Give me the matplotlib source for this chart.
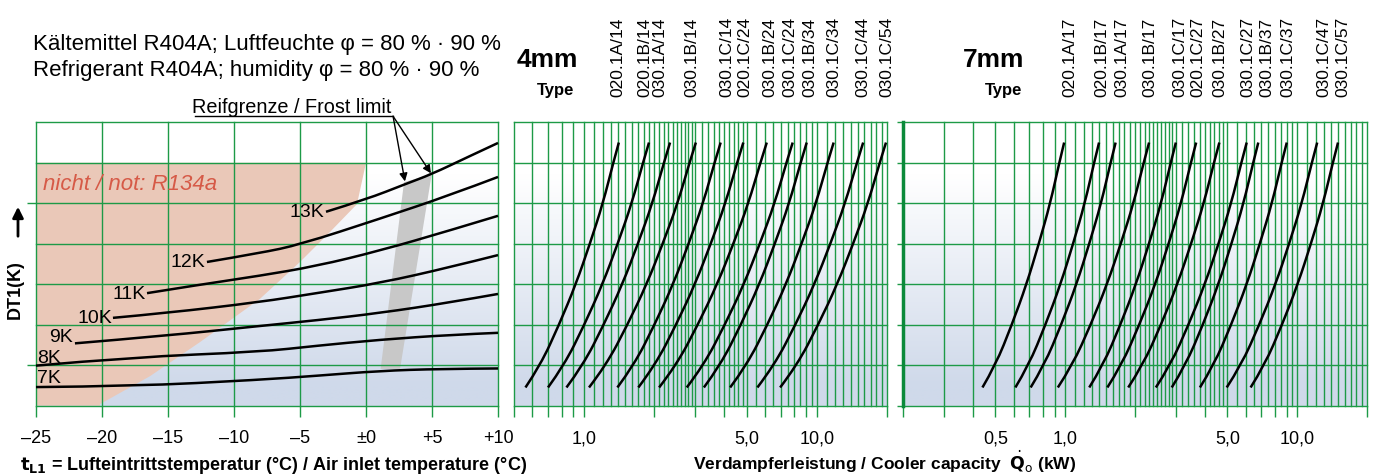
import numpy as np
import matplotlib
matplotlib.use("Agg")
import matplotlib.pyplot as plt
from matplotlib import transforms
from matplotlib.colors import to_rgb
from matplotlib.path import Path
from matplotlib.patches import PathPatch, FancyArrowPatch
from matplotlib.ticker import FixedLocator, FixedFormatter, NullFormatter

plt.rcParams["font.family"] = ["Liberation Sans", "DejaVu Sans"]

# ---- left panel: DT1 curves over air inlet temperature ----
TEMP_TICKS = [-25, -20, -15, -10, -5, 0, 5, 10]
TEMP_LABELS = ["–25", "–20", "–15", "–10", "–5", "±0", "+5", "+10"]

DT_NAMES = ["7K", "8K", "9K", "10K", "11K", "12K", "13K"]
DT_TEMPS = [
    [-25, -17.65, -8.03, -3.71, 1.06, 5.6, 10],
    [-25, -17.65, -8.03, -3.74, 1.06, 6.36, 10],
    [-22.05, -15.1, -8.03, -3.74, 1.06, 6.36, 10],
    [-19.17, -15.1, -8.03, -3.74, 1.06, 6.36, 10],
    [-16.59, -12.58, -8.03, -3.74, 1.06, 6.36, 10],
    [-12.05, -8.03, -5.0, 1.06, 6.36, 10],
    [-3.03, 0.05, 2.95, 4.98, 7.63, 10],
]
DT_LEVELS = [
    [0.46, 0.48, 0.64, 0.74, 0.86, 0.91, 0.92],
    [0.99, 1.20, 1.33, 1.48, 1.63, 1.75, 1.80],
    [1.54, 1.73, 1.97, 2.11, 2.29, 2.55, 2.76],
    [2.17, 2.29, 2.56, 2.78, 3.03, 3.42, 3.72],
    [2.78, 2.99, 3.21, 3.45, 3.83, 4.33, 4.69],
    [3.55, 3.77, 3.98, 4.62, 5.20, 5.65],
    [4.79, 5.10, 5.47, 5.72, 6.13, 6.49],
]

# "nicht / not: R134a" zone boundary
PINK_T = [-25, 0.0, -0.68, -2.73, -5.0, -8.03, -12.58, -16.36, -20.15, -20.15, -25]
PINK_Y = [6.0, 6.0, 4.98, 4.29, 3.55, 2.64, 1.57, 0.73, 0.04, 0.0, 0.0]

# frost limit band
FROST_T = [1.11, 2.58, 4.98, 2.88]
FROST_Y = [0.91, 0.91, 5.72, 5.52]

# ---- capacity panels ----
# shared curve profile: DT level vs. fraction of the log width
PROFILE_DT = [0.45, 1, 2, 3, 4, 5, 6, 6.5]
PROFILE_FRAC = [0.0, 0.16, 0.36, 0.54, 0.69, 0.83, 0.94, 1.0]

TYPES_4MM = ["020.1A/14", "020.1B/14", "030.1A/14", "030.1B/14", "030.1C/14", "020.1C/24",
             "030.1B/24", "030.1C/24", "030.1B/34", "030.1C/34", "030.1C/44", "030.1C/54"]
START_4MM = [0.56, 0.70, 0.84, 1.05, 1.39, 1.71, 2.10, 2.76, 3.27, 4.24, 5.55, 6.95]
END_4MM = [1.41, 1.90, 2.34, 3.02, 3.86, 4.83, 6.09, 7.87, 9.04, 11.8, 15.8, 19.8]
LABEL_4MM = [1.40, 1.83, 2.12, 2.90, 4.10, 4.91, 6.29, 7.67, 9.34, 11.8, 15.8, 19.9]

TYPES_7MM = ["020.1A/17", "020.1B/17", "030.1A/17", "030.1B/17", "030.1C/17", "020.1C/27",
             "030.1B/27", "030.1C/27", "030.1B/37", "030.1C/37", "030.1C/47", "030.1C/57"]
START_7MM = [0.44, 0.61, 0.71, 0.93, 1.27, 1.52, 1.87, 2.46, 2.88, 3.81, 4.97, 6.30]
END_7MM = [0.99, 1.40, 1.65, 2.30, 3.00, 3.67, 4.62, 6.06, 6.80, 9.02, 12.2, 15.0]
LABEL_7MM = [1.05, 1.44, 1.75, 2.32, 3.13, 3.75, 4.65, 6.16, 7.39, 9.16, 13.0, 15.8]

TICKS_4MM = [1, 5, 10]
TICKLABELS_4MM = ["1,0", "5,0", "10,0"]
TICKS_7MM = [0.5, 1, 5, 10]
TICKLABELS_7MM = ["0,5", "1,0", "5,0", "10,0"]

W, H = 1379, 477
GREEN = "#1d9a47"
BLUE = "#cfd9ea"


def px_box(x0, x1, ytop=123.3, ybot=406.7):
    return [x0 / W, 1 - ybot / H, (x1 - x0) / W, (ybot - ytop) / H]


def smooth_path(xs, ys, logx=False):
    # quadratic bezier through the midpoints of the read points
    xs = np.log10(xs) if logx else np.asarray(xs, float)
    ys = np.asarray(ys, float)
    verts = [(xs[0], ys[0])]
    codes = [Path.MOVETO]
    n = len(xs)
    for i in range(1, n - 1):
        if i == n - 2:
            end = (xs[-1], ys[-1])
        else:
            end = ((xs[i] + xs[i + 1]) / 2, (ys[i] + ys[i + 1]) / 2)
        verts += [(xs[i], ys[i]), end]
        codes += [Path.CURVE3, Path.CURVE3]
    if logx:
        verts = [(10 ** x, y) for x, y in verts]
    return Path(verts, codes)


def draw_curve(ax, xs, ys, logx=False):
    ax.add_patch(PathPatch(smooth_path(xs, ys, logx), fill=False, edgecolor="black",
                           lw=1.8, zorder=3, clip_on=False))


def make_panel(fig, box):
    # gradient background in its own axes
    bg = fig.add_axes(box, zorder=0)
    ys = np.linspace(7, 0, 300)
    f = np.clip((5.7 - ys) / 5.2, 0, 1)[:, None, None]
    img = (1 - f) * np.ones(3) + f * np.array(to_rgb(BLUE))
    bg.imshow(img, extent=(0, 1, 0, 1), aspect="auto", interpolation="bilinear")
    bg.axis("off")

    ax = fig.add_axes(box, zorder=1)
    ax.set_facecolor("none")
    for s in ax.spines.values():
        s.set_visible(False)
    ax.set_ylim(0, 7)
    for y in range(8):
        ax.axhline(y, color=GREEN, lw=1, zorder=2, clip_on=False)
    ax.tick_params(axis="both", which="both", color=GREEN, width=1, labelsize=13)
    ax.tick_params(axis="x", which="both", length=8, pad=9)
    return ax


def log_grid(lo):
    return np.concatenate([
        np.round(np.arange(lo, 3.0001, 0.1), 2),
        np.round(np.arange(3.2, 5.0001, 0.2), 2),
        np.arange(5.5, 10.0001, 0.5),
        np.arange(11, 20.0001, 1.0),
    ])


def capacity_panel(ax, lo, starts, ends, ticks, ticklabels, minor):
    ax.set_xscale("log")
    ax.set_xlim(lo, 20)
    for v in log_grid(lo):
        ax.axvline(v, color=GREEN, lw=1, zorder=2, clip_on=False)
    ax.xaxis.set_major_locator(FixedLocator(ticks))
    ax.xaxis.set_major_formatter(FixedFormatter(ticklabels))
    ax.xaxis.set_minor_locator(FixedLocator(minor))
    ax.xaxis.set_minor_formatter(NullFormatter())
    frac = np.array(PROFILE_FRAC)
    for x0, x1 in zip(starts, ends):
        lx = np.log10(x0) + frac * (np.log10(x1) - np.log10(x0))
        draw_curve(ax, 10 ** lx, PROFILE_DT, logx=True)


def type_labels(fig, ax, xs, names):
    tr = transforms.blended_transform_factory(ax.transData, fig.transFigure)
    for x, name in zip(xs, names):
        ax.text(x, 1 - 97 / H, name, transform=tr, rotation=90, ha="center", va="bottom",
                fontsize=12.5, clip_on=False)


def main():
    fig = plt.figure(figsize=(W / 100, H / 100), dpi=100)

    # ---------------- left panel ----------------
    ax = make_panel(fig, px_box(36, 498))
    ax.set_xlim(-25, 10)
    for t in TEMP_TICKS:
        ax.axvline(t, color=GREEN, lw=1, zorder=2, clip_on=False)
    ax.set_xticks(TEMP_TICKS, TEMP_LABELS)
    ax.set_yticks([1, 5])
    ax.tick_params(axis="y", length=6.5, labelleft=False)

    ax.fill(PINK_T, PINK_Y, color="#eac8b8", lw=0, zorder=1)
    ax.fill(FROST_T, FROST_Y, color="#c8c8c8", lw=0, zorder=1.5)
    ax.text(-24.5, 5.35, "nicht / not: R134a", color="#d65a47", style="italic",
            fontsize=16, ha="left", va="baseline", zorder=4)

    label_pos = [(-24.9, 0.69, "left"), (-24.9, 1.20, "left"), (-22.2, 1.70, "right"),
                 (-19.25, 2.17, "right"), (-16.7, 2.78, "right"), (-12.15, 3.55, "right"),
                 (-3.15, 4.79, "right")]
    for name, ts, ys, (lx, ly, ha) in zip(DT_NAMES, DT_TEMPS, DT_LEVELS, label_pos):
        draw_curve(ax, ts, ys)
        ax.text(lx, ly, name, fontsize=14, ha=ha, va="center", zorder=4)

    # frost limit call-out
    ax.plot([-12.95, 2.05], [7.15, 7.15], color="black", lw=1, clip_on=False)
    for xy in [(2.95, 5.54), (4.92, 5.74)]:
        ax.annotate("", xy=xy, xytext=(2.05, 7.15), annotation_clip=False,
                    arrowprops=dict(arrowstyle="-|>", color="black", lw=1, mutation_scale=12,
                                    shrinkA=0, shrinkB=0), zorder=5)
    fig.text(192 / W, 1 - 113 / H, "Reifgrenze / Frost limit", fontsize=14.3, va="baseline")

    # ---------------- 4mm panel ----------------
    ax4 = make_panel(fig, px_box(514, 887))
    ax4.set_yticks([])
    capacity_panel(ax4, 0.5, START_4MM, END_4MM, TICKS_4MM, TICKLABELS_4MM,
                   [0.5, 0.6, 0.7, 0.8, 0.9, 2, 3, 4, 6, 7, 8, 9, 20])
    type_labels(fig, ax4, LABEL_4MM, TYPES_4MM)

    # ---------------- 7mm panel ----------------
    ax7 = make_panel(fig, px_box(903, 1367))
    ax7.set_yticks(range(8))
    ax7.tick_params(axis="y", length=4, labelleft=False)
    capacity_panel(ax7, 0.2, START_7MM, END_7MM, TICKS_7MM, TICKLABELS_7MM,
                   [0.2, 0.3, 0.4, 0.6, 0.7, 0.8, 0.9, 2, 3, 4, 6, 7, 8, 9, 20])
    ax7.axvline(0.2, color="#0b8a3a", lw=2.5, zorder=2.5, clip_on=False)
    type_labels(fig, ax7, LABEL_7MM, TYPES_7MM)

    # ---------------- texts ----------------
    fig.text(33 / W, 1 - 50 / H, "Kältemittel R404A; Luftfeuchte φ = 80 % · 90 %",
             fontsize=16, va="baseline")
    fig.text(33 / W, 1 - 76 / H, "Refrigerant R404A; humidity φ = 80 % · 90 %",
             fontsize=16, va="baseline")
    fig.text(517 / W, 1 - 67 / H, "4mm", fontsize=19, fontweight="bold", va="baseline")
    fig.text(537 / W, 1 - 95 / H, "Type", fontsize=12, fontweight="bold", va="baseline")
    fig.text(963 / W, 1 - 67 / H, "7mm", fontsize=19, fontweight="bold", va="baseline")
    fig.text(985 / W, 1 - 95 / H, "Type", fontsize=12, fontweight="bold", va="baseline")

    fig.text(15 / W, 1 - 290 / H, "DT1(K)", rotation=90, fontsize=13, fontweight="bold",
             ha="center", va="center")
    fig.add_artist(FancyArrowPatch(
        (18 / W, 1 - 240 / H), (18 / W, 1 - 205 / H), transform=fig.transFigure,
        arrowstyle="-|>", mutation_scale=16, color="black", lw=2))

    fig.text(20 / W, 1 - 470 / H,
             r"$\mathbf{t_{L1}}$ = Lufteintrittstemperatur (°C) / Air inlet temperature (°C)",
             fontsize=13, fontweight="bold", va="baseline", ha="left")
    fig.text(885 / W, 1 - 470 / H,
             r"Verdampferleistung / Cooler capacity  $\dot{\mathbf{Q}}_{\mathrm{o}}$ (kW)",
             fontsize=12.5, fontweight="bold", va="baseline", ha="center")

    fig.savefig("out.png", dpi=100)


if __name__ == "__main__":
    main()
